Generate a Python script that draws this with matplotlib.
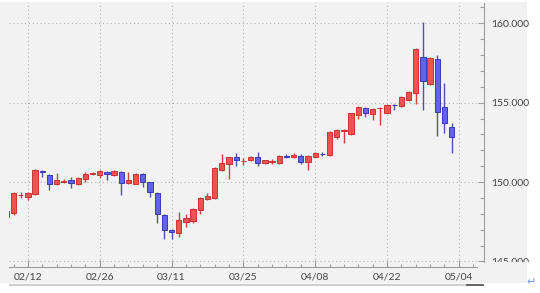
import matplotlib
matplotlib.use("Agg")
import matplotlib.pyplot as plt
import numpy as np
from matplotlib.patches import Rectangle
from matplotlib.lines import Line2D
from matplotlib.ticker import FixedLocator, FixedFormatter, MultipleLocator
from matplotlib.transforms import Bbox, TransformedBbox

plt.rcParams['font.family'] = ['Lato', 'DejaVu Sans']

# ---------------- data (daily candles, USD/JPY) ----------------
opens = [147.82, 148.05, 149.17, 149.08, 149.23, 150.72, 150.45, 149.86, 150.03, 150.13,
         149.86, 150.19, 150.52, 150.42, 150.66, 150.42, 150.64, 149.94, 149.88, 150.49,
         149.98, 149.30, 147.93, 146.98, 146.80, 147.49, 147.55, 148.24, 148.94, 149.00,
         150.76, 151.14, 151.58, 151.30, 151.39, 151.58, 151.20, 151.28, 151.20, 151.64,
         151.55, 151.64, 151.27, 151.58, 151.80, 151.71, 152.84, 153.22, 153.03, 154.23,
         154.67, 154.29, 154.64, 154.38, 154.88, 154.79, 155.17, 155.61, 157.88, 156.18,
         157.75, 154.70, 153.50]
highs = [148.25, 149.38, 149.40, 149.40, 150.82, 150.76, 150.51, 150.55, 150.17, 150.35,
         150.30, 150.65, 150.65, 150.76, 150.70, 150.75, 150.68, 150.65, 150.55, 150.55,
         150.02, 149.35, 148.00, 147.05, 148.10, 147.99, 148.35, 149.05, 149.30, 150.95,
         151.80, 151.60, 151.83, 151.50, 151.62, 151.90, 151.42, 151.45, 151.68, 151.77,
         151.85, 151.77, 151.70, 151.90, 151.90, 153.20, 153.32, 153.35, 154.38, 154.78,
         154.73, 154.65, 154.72, 154.90, 154.92, 155.40, 155.72, 158.44, 160.08, 157.90,
         158.03, 156.27, 153.72]
lows = [147.75, 147.95, 149.00, 148.87, 149.20, 150.34, 149.50, 149.80, 149.92, 149.65,
        149.82, 150.00, 150.45, 150.24, 150.13, 150.38, 149.19, 149.90, 149.85, 149.67,
        149.08, 147.41, 146.42, 146.42, 146.54, 147.17, 147.42, 147.99, 148.87, 148.95,
        150.70, 150.20, 151.01, 151.08, 151.35, 151.01, 151.15, 151.14, 151.15, 151.50,
        151.50, 151.14, 150.76, 151.55, 151.64, 151.65, 152.71, 152.46, 152.98, 153.97,
        154.10, 153.94, 153.60, 154.33, 154.54, 154.75, 155.12, 154.92, 154.54, 156.10,
        152.90, 153.09, 151.83]
closes = [148.18, 149.31, 149.21, 149.30, 150.76, 150.62, 149.86, 150.13, 150.07, 149.92,
          150.27, 150.49, 150.56, 150.70, 150.51, 150.70, 149.94, 150.10, 150.49, 150.03,
          149.36, 147.97, 146.98, 146.88, 147.61, 147.74, 148.31, 149.00, 149.12, 150.89,
          151.20, 151.58, 151.36, 151.35, 151.58, 151.23, 151.36, 151.33, 151.64, 151.58,
          151.71, 151.27, 151.64, 151.83, 151.76, 153.15, 153.28, 153.28, 154.32, 154.73,
          154.38, 154.60, 154.68, 154.86, 154.84, 155.36, 155.67, 158.38, 156.37, 157.81,
          154.41, 153.72, 152.81]
x_tick_labels = ["02/12", "02/26", "03/11", "03/25", "04/08", "04/22", "05/04"]
y_tick_values = [145, 150, 155, 160]

# ---------------- layout helpers ----------------
W, H = 540, 293
fig = plt.figure(figsize=(W / 100, H / 100), dpi=100)
fig.patch.set_facecolor('white')


def fx(px):
    return px / W


def fy(py):
    return 1 - py / H


# grey panel behind the chart
fig.add_artist(Rectangle((0, fy(283)), fx(527), fy(2) - fy(283), transform=fig.transFigure,
                         facecolor='#f2f2f2', edgecolor='none', zorder=-5))
fig.add_artist(Line2D([fx(10), fx(467)], [fy(284.5)] * 2, transform=fig.transFigure,
                      color='#cfcfcf', lw=1.5))
fig.add_artist(Line2D([fx(467), fx(483)], [fy(284.5)] * 2, transform=fig.transFigure,
                      color='#555555', lw=1.3))
fig.text(fx(531), fy(282), '\u21b5', color='#6f9bd8', fontsize=8, ha='center', va='center')

ax = fig.add_axes([fx(8.5), fy(266.7), fx(476.8 - 8.5), fy(3) - fy(266.7)])
ax.set_facecolor('#f2f2f2')

n = len(opens)
x = np.arange(n)
o = np.array(opens)
c = np.array(closes)
hi = np.array(highs)
lo = np.array(lows)
up = c >= o

fill_cols = np.where(up, '#f05252', '#6262ee')
edge_cols = np.where(up, '#c83434', '#3a3ab4')
wick_cols = np.where(up, '#d24040', '#5252a8')

ax.vlines(x, lo, hi, colors=wick_cols, lw=1.0, zorder=2)
bottoms = np.minimum(o, c)
heights = np.maximum(np.abs(c - o), 0.03)
ax.bar(x, heights, bottom=bottoms, width=0.74, color=fill_cols, edgecolor=edge_cols,
       linewidth=0.7, zorder=3)

ax.set_xlim(0.3, 65.5)
ax.set_ylim(144.67, 161.28)

# spines
ax.spines['top'].set_visible(False)
ax.spines['left'].set_visible(False)
ax.spines['bottom'].set_color('#9c9c9c')
ax.spines['bottom'].set_linewidth(0.8)
ax.spines['right'].set_color('#9c9c9c')
ax.spines['right'].set_linewidth(0.8)
ax.spines['right'].set_position(('outward', 5.2))
ax.spines['right'].set_bounds(144.97, 161.28)

# x axis ticks
major_x = [3 + 10 * k for k in range(len(x_tick_labels))]
ax.xaxis.set_major_locator(FixedLocator(major_x))
ax.xaxis.set_major_formatter(FixedFormatter(x_tick_labels))
ax.xaxis.set_minor_locator(FixedLocator(list(range(1, 66, 2))))
ax.tick_params(axis='x', which='major', direction='in', length=5, width=0.8,
               color='#9c9c9c', pad=4.5, labelsize=7.5, labelcolor='#444444')
ax.tick_params(axis='x', which='minor', direction='in', length=2.5, width=0.8,
               color='#9c9c9c')

# y axis ticks (right side)
ax.yaxis.tick_right()
ax.yaxis.set_major_locator(FixedLocator(y_tick_values))
ax.yaxis.set_major_formatter(FixedFormatter([f"{v:.3f}" for v in y_tick_values]))
ax.yaxis.set_minor_locator(MultipleLocator(1))
ax.tick_params(axis='y', which='major', direction='in', length=4, width=0.8,
               color='#9c9c9c', pad=5, labelsize=7.5, labelcolor='#444444')
ax.tick_params(axis='y', which='minor', direction='in', length=3, width=0.8,
               color='#9c9c9c')

clip = TransformedBbox(Bbox.from_extents(fx(470), fy(262), 1.0, 1.0), fig.transFigure)
for t in ax.yaxis.get_major_ticks():
    t.label2.set_clip_box(clip)
    t.label2.set_clip_on(True)

ax.grid(True, which='major', linestyle=(0, (1, 2.5)), color='#b4b4b4', lw=0.8)
ax.set_axisbelow(True)

fig.savefig('out.png', dpi=100, facecolor='white')
